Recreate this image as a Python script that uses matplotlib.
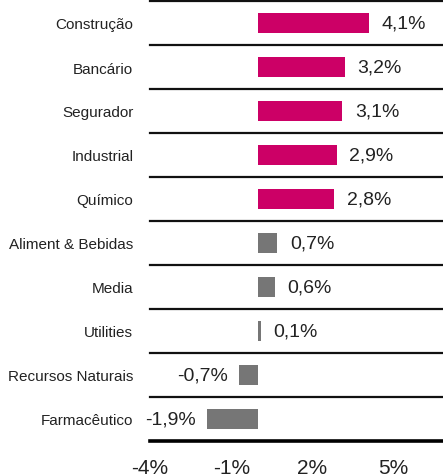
import matplotlib.pyplot as plt
import matplotlib.font_manager as fm

# sector returns, top to bottom
sectors = ['Construção', 'Bancário', 'Segurador', 'Industrial', 'Químico',
           'Aliment & Bebidas', 'Media', 'Utilities', 'Recursos Naturais', 'Farmacêutico']
values = [4.1, 3.2, 3.1, 2.9, 2.8, 0.7, 0.6, 0.1, -0.7, -1.9]
highlight = [True, True, True, True, True, False, False, False, False, False]
xticks = [-4, -1, 2, 5]

names = {f.name for f in fm.fontManager.ttflist}
family = ['Liberation Sans Narrow', 'Liberation Sans'] if 'Liberation Sans Narrow' in names else ['Liberation Sans']
plt.rcParams['font.family'] = family + ['DejaVu Sans']

magenta = '#cc0066'
grey = '#767676'
text_col = '#222222'

fig = plt.figure(figsize=(4.43, 4.77), dpi=100)
ax = fig.add_axes([150 / 443, 35 / 477, 293 / 443, 440 / 477])

ypos = list(range(len(sectors)))
colors = [magenta if h else grey for h in highlight]
ax.barh(ypos, values, height=0.44, color=colors)

for y, v in zip(ypos, values):
    lbl = f'{v:.1f}%'.replace('.', ',')
    if v >= 0:
        ax.annotate(lbl, (v, y), xytext=(9, 0), textcoords='offset points',
                    ha='left', va='center', fontsize=14, color=text_col)
    else:
        ax.annotate(lbl, (v, y), xytext=(-8, 0), textcoords='offset points',
                    ha='right', va='center', fontsize=14, color=text_col)

# separator lines between rows, plus the top rule
for k in range(len(sectors)):
    ax.axhline(k - 0.5, color='#111111', lw=1.6, clip_on=False)

ax.set_xlim(-3.95, 6.82)
ax.set_ylim(len(sectors) - 0.5, -0.5)
ax.set_yticks(ypos)
ax.set_yticklabels(sectors, fontsize=11, color=text_col)
ax.set_xticks(xticks)
ax.set_xticklabels([f'{t}%' for t in xticks], fontsize=15, color=text_col)
ax.tick_params(axis='both', length=0)
ax.tick_params(axis='y', pad=12)
ax.tick_params(axis='x', pad=12)

for s in ['left', 'right', 'top']:
    ax.spines[s].set_visible(False)
ax.spines['bottom'].set_linewidth(2.6)
ax.spines['bottom'].set_color('#000000')

fig.savefig('out.png', dpi=100)
